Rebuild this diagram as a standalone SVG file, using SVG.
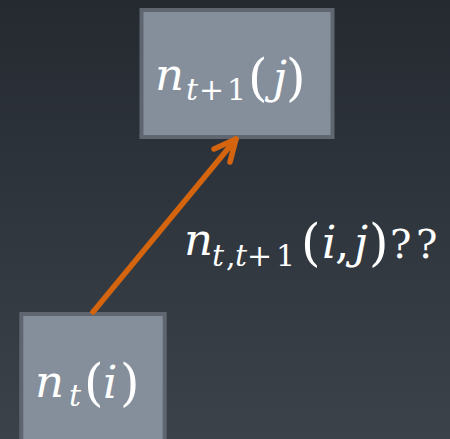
<svg xmlns="http://www.w3.org/2000/svg" width="450" height="439" viewBox="0 0 450 439">
<defs>
<linearGradient id="bg" x1="0" y1="0" x2="0" y2="1">
<stop offset="0" stop-color="#252a31"/>
<stop offset="1" stop-color="#3b424a"/>
</linearGradient>
<style>
.box{fill:#858f9c;stroke:#5f6670;stroke-width:4}
text{font-family:"DejaVu Serif","Liberation Serif",serif;fill:#ffffff}
.i{font-style:italic}
.big{font-size:45px}
.p{font-size:50px}
.sub{font-size:30px}
.q{font-size:40px}
.conn{stroke:#d4650e;stroke-width:5.5;fill:none;stroke-linecap:round;stroke-linejoin:round}
</style>
</defs>
<rect width="450" height="439" fill="url(#bg)"/>
<g id="node-top">
<rect class="box" x="141.5" y="10" width="191" height="127"/>
<text class="big i" x="155" y="90">n</text>
<text class="sub i" x="186" y="100">t</text>
<text class="sub" x="199" y="100">+</text>
<text class="sub" x="227" y="100">1</text>
<text class="p" x="248" y="95">(</text>
<text class="big i" x="273" y="93">j</text>
<text class="p" x="286" y="95">)</text>
</g>
<g id="node-bottom">
<rect class="box" x="21.3" y="314" width="143.4" height="140"/>
<text class="big i" x="35" y="397">n</text>
<text class="sub i" x="69" y="406">t</text>
<text class="p" x="84" y="400">(</text>
<text class="big i" x="103" y="398">i</text>
<text class="p" x="120" y="400">)</text>
</g>
<g id="connectors">
<path class="conn" d="M93 312 L236 139"/>
<path class="conn" d="M214 149 L236 139 L230 162"/>
</g>
<g id="label">
<text class="big i" x="184" y="255">n</text>
<text class="sub i" x="212" y="266">t</text>
<text class="sub" x="226" y="266">,</text>
<text class="sub i" x="235" y="266">t</text>
<text class="sub" x="247" y="266">+</text>
<text class="sub" x="276" y="266">1</text>
<text class="p" x="301" y="260">(</text>
<text class="big i" x="322" y="258">i</text>
<text class="big" x="335" y="258">,</text>
<text class="big i" x="354" y="258">j</text>
<text class="p" x="369" y="260">)</text>
<text class="q" x="390" y="258">?</text>
<text class="q" x="416" y="258">?</text>
</g>
</svg>
